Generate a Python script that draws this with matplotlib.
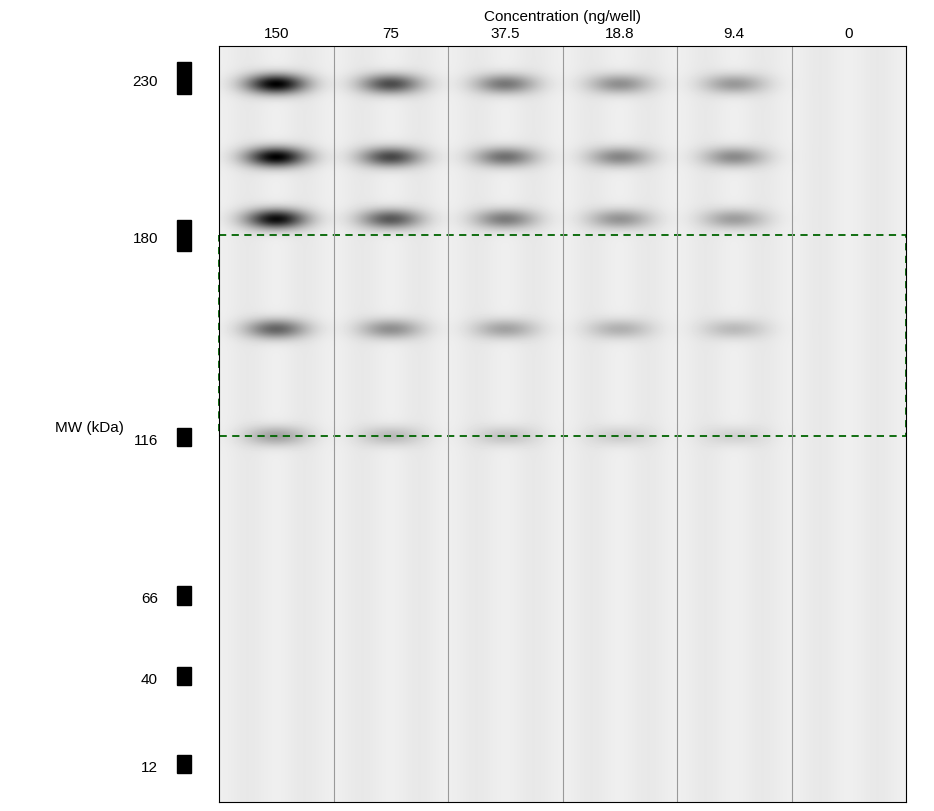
import numpy as np
import matplotlib.pyplot as plt
from matplotlib.patches import Rectangle

plt.rcParams["font.family"] = ["Liberation Sans", "DejaVu Sans"]

concentrations = ["150", "75", "37.5", "18.8", "9.4", "0"]
band_y = [85, 158, 220, 330, 437]          # band centre, pixel rows
band_darkness = [
    [1.00, 0.68, 0.50, 0.40, 0.36, 0.0],
    [1.00, 0.70, 0.53, 0.44, 0.42, 0.0],
    [0.95, 0.63, 0.48, 0.38, 0.34, 0.0],
    [0.58, 0.40, 0.32, 0.26, 0.22, 0.0],
    [0.32, 0.22, 0.18, 0.14, 0.12, 0.0],
]
marker_labels = ["230", "180", "116", "66", "40", "12"]
marker_y = [79, 236, 438, 596, 677, 765]
marker_h = [32, 31, 18, 19, 18, 18]

X0, X1, Y0, Y1 = 219, 906, 47, 803
lane_w = (X1 - X0) / len(concentrations)

fig = plt.figure(figsize=(9.34, 8.12), dpi=100)
ax = fig.add_axes([X0 / 934, 1 - Y1 / 812, (X1 - X0) / 934, (Y1 - Y0) / 812])

xs = np.arange(X0, X1) + 0.5
ys = np.arange(Y0, Y1) + 0.5
XX, YY = np.meshgrid(xs, ys)
dark = np.zeros_like(XX)
for i, yc in enumerate(band_y):
    for j in range(len(concentrations)):
        xc = X0 + (j + 0.5) * lane_w
        d = band_darkness[i][j]
        dark += d * np.exp(-((XX - xc) / 21) ** 2 / 2 - ((YY - yc) / 7) ** 2 / 2)
lane_pos = ((XX - X0) % lane_w) / lane_w
bg = 0.91 + 0.025 * np.cos(np.pi * (2 * lane_pos - 1)) ** 2
img = np.clip(bg * (1 - np.clip(dark, 0, 1)), 0, 1)
ax.imshow(img, cmap="gray", vmin=0, vmax=1, extent=[X0, X1, Y1, Y0], aspect="auto",
          interpolation="bilinear")
ax.set_xlim(X0, X1)
ax.set_ylim(Y1, Y0)
ax.set_xticks([])
ax.set_yticks([])
for s in ax.spines.values():
    s.set_linewidth(0.8)

for j in range(1, len(concentrations)):
    ax.axvline(X0 + j * lane_w, color="#999999", lw=0.8)
for j, c in enumerate(concentrations):
    ax.text(X0 + (j + 0.5) * lane_w, 41, c, ha="center", va="bottom", fontsize=11, clip_on=False)
ax.text((X0 + X1) / 2, 17, "Concentration (ng/well)", ha="center", va="center",
        fontsize=11, clip_on=False)

for lab, y, h in zip(marker_labels, marker_y, marker_h):
    ax.add_patch(Rectangle((177, y - h / 2), 14, h, color="black", clip_on=False))
    ax.text(158, y + 3, lab, ha="right", va="center", fontsize=11, clip_on=False)
ax.text(55, 428, "MW (kDa)", ha="left", va="center", fontsize=11, clip_on=False)

ax.add_patch(Rectangle((X0, 236), X1 - X0, 201, fill=False, ec="#006400", lw=1.3,
                       ls=(0, (4, 3)), clip_on=False))

fig.savefig("out.png", dpi=100)
